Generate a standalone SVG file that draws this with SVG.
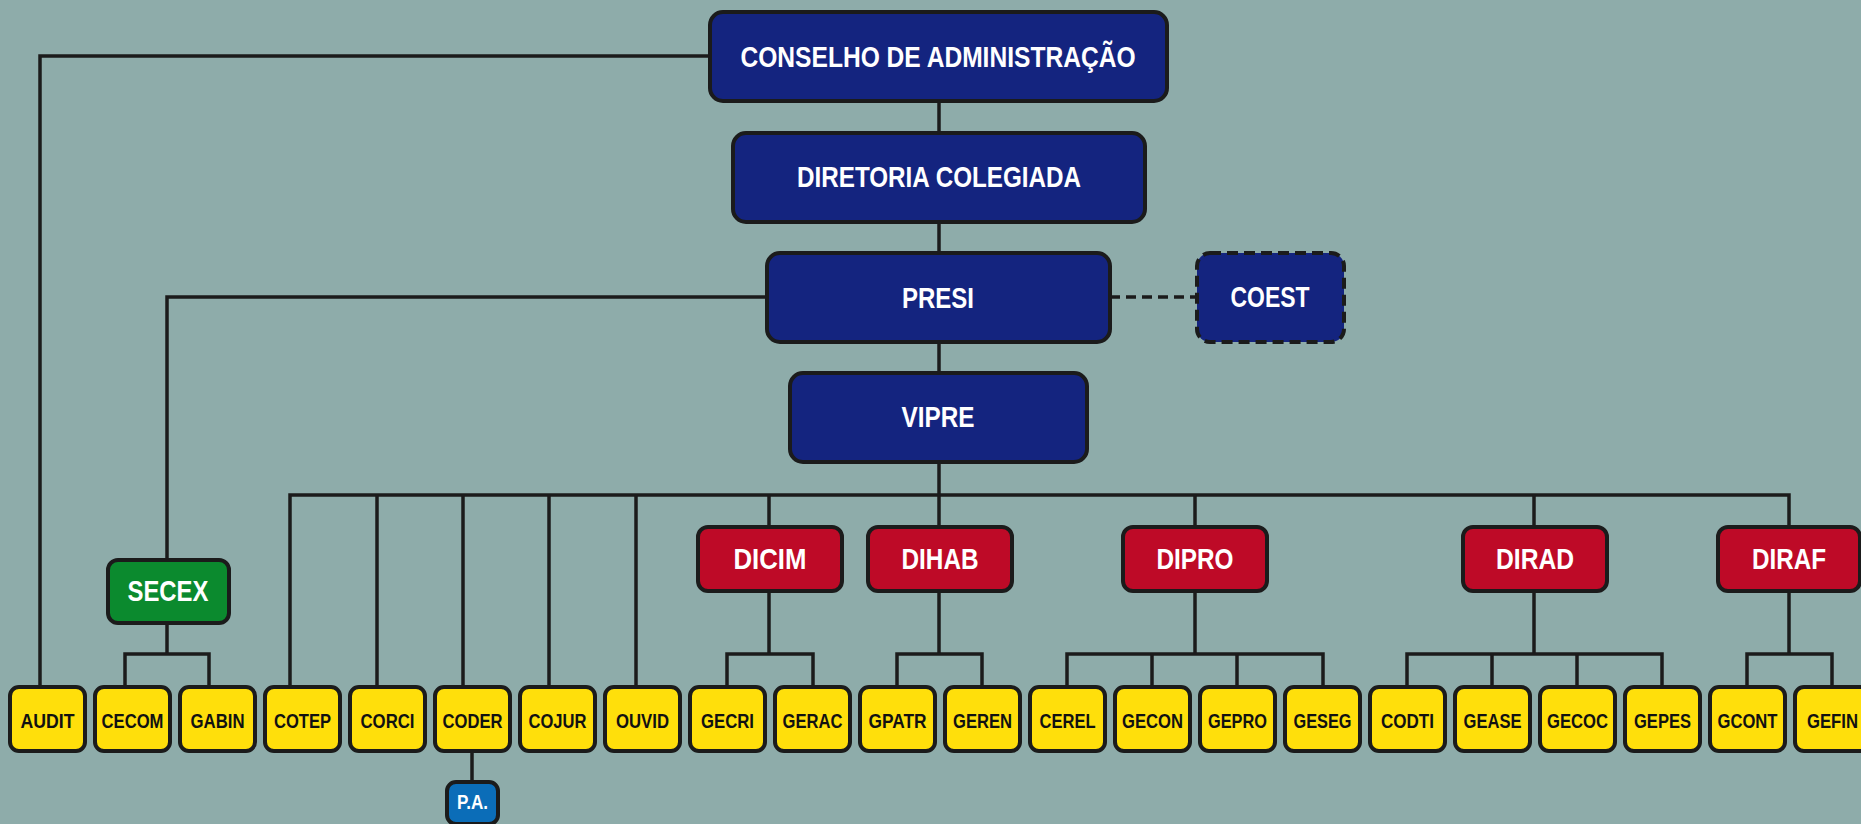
<svg xmlns="http://www.w3.org/2000/svg" width="1861" height="824" viewBox="0 0 1861 824">
<style>
.bg{fill:#8eacaa}
.box{stroke:#1b1b1b;stroke-width:4}
.navy{fill:#14247f}
.red{fill:#be0a27}
.green{fill:#0b8a2e}
.yel{fill:#ffdf0b}
.blue{fill:#0b6db8}
.dash{stroke-dasharray:11 6}
.t{font-family:"Liberation Sans Narrow","Liberation Sans",Arial,sans-serif;font-weight:bold;text-anchor:middle}
.w{fill:#ffffff;font-size:30px}
.k{fill:#111111;font-size:21px}
.conn path{fill:none;stroke:#1b1b1b;stroke-width:3.5}
.conn .dl{stroke-dasharray:10 6}
</style>
<rect class="bg" x="0" y="0" width="1861" height="824"/>

<g class="conn">
<path d="M710 56 H40 V687"/>
<path d="M939 101 V133"/>
<path d="M939 222 V253"/>
<path d="M939 342 V373"/>
<path d="M767 297 H167 V560"/>
<path class="dl" d="M1110 297 H1197"/>
<path d="M939 462 V495"/>
<path d="M290 687 V495 H1789 V527"/>
<path d="M377 495 V687"/>
<path d="M463 495 V687"/>
<path d="M549 495 V687"/>
<path d="M636 495 V687"/>
<path d="M769 495 V527"/>
<path d="M939 495 V527"/>
<path d="M1195 495 V527"/>
<path d="M1534 495 V527"/>
<path d="M167 623 V654"/>
<path d="M125 687 V654 H209 V687"/>
<path d="M769 591 V654"/>
<path d="M727 687 V654 H813 V687"/>
<path d="M939 591 V654"/>
<path d="M897 687 V654 H982 V687"/>
<path d="M1195 591 V654"/>
<path d="M1067 687 V654 H1323 V687"/>
<path d="M1152 654 V687"/>
<path d="M1237 654 V687"/>
<path d="M1534 591 V654"/>
<path d="M1407 687 V654 H1662 V687"/>
<path d="M1492 654 V687"/>
<path d="M1577 654 V687"/>
<path d="M1789 591 V654"/>
<path d="M1747 687 V654 H1832 V687"/>
<path d="M472 751 V782"/>
</g>

<g id="conselho"><rect class="box navy" x="710" y="12" width="457" height="89" rx="13"/><text class="t w" x="938" y="67" font-size="29" style="font-size:29px" textLength="395" lengthAdjust="spacingAndGlyphs">CONSELHO DE ADMINISTRAÇÃO</text></g>
<g id="diretoria"><rect class="box navy" x="733" y="133" width="412" height="89" rx="13"/><text class="t w" x="939" y="187" textLength="284" lengthAdjust="spacingAndGlyphs">DIRETORIA COLEGIADA</text></g>
<g id="presi"><rect class="box navy" x="767" y="253" width="343" height="89" rx="13"/><text class="t w" x="938" y="308" textLength="72" lengthAdjust="spacingAndGlyphs">PRESI</text></g>
<g id="coest"><rect class="box navy dash" x="1197" y="253" width="147" height="89" rx="13"/><text class="t w" x="1270" y="307" textLength="79" lengthAdjust="spacingAndGlyphs">COEST</text></g>
<g id="vipre"><rect class="box navy" x="790" y="373" width="297" height="89" rx="13"/><text class="t w" x="938" y="427" textLength="73" lengthAdjust="spacingAndGlyphs">VIPRE</text></g>

<g id="secex"><rect class="box green" x="108" y="560" width="121" height="63" rx="10"/><text class="t w" x="168" y="601" textLength="81" lengthAdjust="spacingAndGlyphs">SECEX</text></g>
<g id="dicim"><rect class="box red" x="698" y="527" width="144" height="64" rx="10"/><text class="t w" x="770" y="569" textLength="73" lengthAdjust="spacingAndGlyphs">DICIM</text></g>
<g id="dihab"><rect class="box red" x="868" y="527" width="144" height="64" rx="10"/><text class="t w" x="940" y="569" textLength="77" lengthAdjust="spacingAndGlyphs">DIHAB</text></g>
<g id="dipro"><rect class="box red" x="1123" y="527" width="144" height="64" rx="10"/><text class="t w" x="1195" y="569" textLength="77" lengthAdjust="spacingAndGlyphs">DIPRO</text></g>
<g id="dirad"><rect class="box red" x="1463" y="527" width="144" height="64" rx="10"/><text class="t w" x="1535" y="569" textLength="78" lengthAdjust="spacingAndGlyphs">DIRAD</text></g>
<g id="diraf"><rect class="box red" x="1718" y="527" width="142" height="64" rx="10"/><text class="t w" x="1789" y="569" textLength="74" lengthAdjust="spacingAndGlyphs">DIRAF</text></g>

<g id="audit"><rect class="box yel" x="10" y="687" width="75" height="64" rx="9"/><text class="t k" x="47.5" y="728" textLength="54" lengthAdjust="spacingAndGlyphs">AUDIT</text></g>
<g id="cecom"><rect class="box yel" x="95" y="687" width="75" height="64" rx="9"/><text class="t k" x="132.5" y="728" textLength="62" lengthAdjust="spacingAndGlyphs">CECOM</text></g>
<g id="gabin"><rect class="box yel" x="180" y="687" width="75" height="64" rx="9"/><text class="t k" x="217.5" y="728" textLength="54" lengthAdjust="spacingAndGlyphs">GABIN</text></g>
<g id="cotep"><rect class="box yel" x="265" y="687" width="75" height="64" rx="9"/><text class="t k" x="302.5" y="728" textLength="57" lengthAdjust="spacingAndGlyphs">COTEP</text></g>
<g id="corci"><rect class="box yel" x="350" y="687" width="75" height="64" rx="9"/><text class="t k" x="387.5" y="728" textLength="54" lengthAdjust="spacingAndGlyphs">CORCI</text></g>
<g id="coder"><rect class="box yel" x="435" y="687" width="75" height="64" rx="9"/><text class="t k" x="472.5" y="728" textLength="60" lengthAdjust="spacingAndGlyphs">CODER</text></g>
<g id="cojur"><rect class="box yel" x="520" y="687" width="75" height="64" rx="9"/><text class="t k" x="557.5" y="728" textLength="58" lengthAdjust="spacingAndGlyphs">COJUR</text></g>
<g id="ouvid"><rect class="box yel" x="605" y="687" width="75" height="64" rx="9"/><text class="t k" x="642.5" y="728" textLength="53" lengthAdjust="spacingAndGlyphs">OUVID</text></g>
<g id="gecri"><rect class="box yel" x="690" y="687" width="75" height="64" rx="9"/><text class="t k" x="727.5" y="728" textLength="53" lengthAdjust="spacingAndGlyphs">GECRI</text></g>
<g id="gerac"><rect class="box yel" x="775" y="687" width="75" height="64" rx="9"/><text class="t k" x="812.5" y="728" textLength="60" lengthAdjust="spacingAndGlyphs">GERAC</text></g>
<g id="gpatr"><rect class="box yel" x="860" y="687" width="75" height="64" rx="9"/><text class="t k" x="897.5" y="728" textLength="58" lengthAdjust="spacingAndGlyphs">GPATR</text></g>
<g id="geren"><rect class="box yel" x="945" y="687" width="75" height="64" rx="9"/><text class="t k" x="982.5" y="728" textLength="59" lengthAdjust="spacingAndGlyphs">GEREN</text></g>
<g id="cerel"><rect class="box yel" x="1030" y="687" width="75" height="64" rx="9"/><text class="t k" x="1067.5" y="728" textLength="56" lengthAdjust="spacingAndGlyphs">CEREL</text></g>
<g id="gecon"><rect class="box yel" x="1115" y="687" width="75" height="64" rx="9"/><text class="t k" x="1152.5" y="728" textLength="61" lengthAdjust="spacingAndGlyphs">GECON</text></g>
<g id="gepro"><rect class="box yel" x="1200" y="687" width="75" height="64" rx="9"/><text class="t k" x="1237.5" y="728" textLength="59" lengthAdjust="spacingAndGlyphs">GEPRO</text></g>
<g id="geseg"><rect class="box yel" x="1285" y="687" width="75" height="64" rx="9"/><text class="t k" x="1322.5" y="728" textLength="58" lengthAdjust="spacingAndGlyphs">GESEG</text></g>
<g id="codti"><rect class="box yel" x="1370" y="687" width="75" height="64" rx="9"/><text class="t k" x="1407.5" y="728" textLength="53" lengthAdjust="spacingAndGlyphs">CODTI</text></g>
<g id="gease"><rect class="box yel" x="1455" y="687" width="75" height="64" rx="9"/><text class="t k" x="1492.5" y="728" textLength="58" lengthAdjust="spacingAndGlyphs">GEASE</text></g>
<g id="gecoc"><rect class="box yel" x="1540" y="687" width="75" height="64" rx="9"/><text class="t k" x="1577.5" y="728" textLength="61" lengthAdjust="spacingAndGlyphs">GECOC</text></g>
<g id="gepes"><rect class="box yel" x="1625" y="687" width="75" height="64" rx="9"/><text class="t k" x="1662.5" y="728" textLength="57" lengthAdjust="spacingAndGlyphs">GEPES</text></g>
<g id="gcont"><rect class="box yel" x="1710" y="687" width="75" height="64" rx="9"/><text class="t k" x="1747.5" y="728" textLength="60" lengthAdjust="spacingAndGlyphs">GCONT</text></g>
<g id="gefin"><rect class="box yel" x="1795" y="687" width="75" height="64" rx="9"/><text class="t k" x="1832.5" y="728" textLength="51" lengthAdjust="spacingAndGlyphs">GEFIN</text></g>

<g id="pa"><rect class="box blue" x="447" y="782" width="51" height="42" rx="9"/><text class="t" x="472.5" y="809" style="fill:#ffffff;font-size:21px" textLength="31" lengthAdjust="spacingAndGlyphs">P.A.</text></g>
</svg>
